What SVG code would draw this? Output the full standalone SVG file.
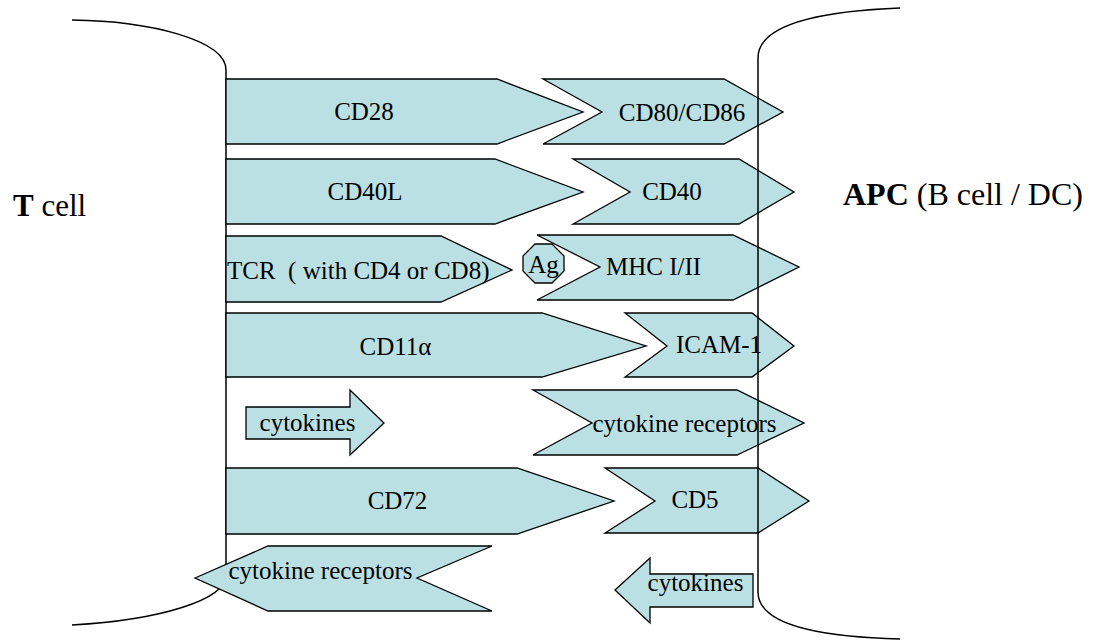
<svg xmlns="http://www.w3.org/2000/svg" width="1100" height="641" viewBox="0 0 1100 641">
<style>
.shape{fill:#BBE0E3;stroke:#000;stroke-width:1.3;stroke-linejoin:miter}
.mem{fill:none;stroke:#000;stroke-width:1.5}
.lbl{font-family:"Liberation Serif","Times New Roman",serif;font-size:25px;fill:#000;white-space:pre}
.mid{text-anchor:middle}
.side{font-family:"Liberation Serif","Times New Roman",serif;fill:#000;white-space:pre}
</style>
<rect width="1100" height="641" fill="#fff"/>
<g id="t-cell-membrane">
<path class="mem" d="M72 20 C150 21 226 40 226 70 L226 575 C226 600 160 620 72 625"/>
</g>
<g id="t-cell-label"><text class="side" x="13" y="216" font-size="31"><tspan font-weight="bold">T</tspan> cell</text></g>
<g id="apc-label"><text class="side" x="843" y="205" font-size="32"><tspan font-weight="bold">APC</tspan> (B cell / DC)</text></g>

<g id="cd28"><path class="shape" d="M226 79 H497 L583 112 L497 144 H226 Z"/><text class="lbl mid" x="364" y="120">CD28</text></g>
<g id="cd80-cd86"><path class="shape" d="M543 79 H724 L783 112 L724 144 H543 L602 112 Z"/><text class="lbl mid" x="682" y="121">CD80/CD86</text></g>
<g id="cd40l"><path class="shape" d="M226 159 H495 L583 192 L495 224 H226 Z"/><text class="lbl mid" x="365" y="200">CD40L</text></g>
<g id="cd40"><path class="shape" d="M573 159 H739 L794 192 L739 224 H573 L630 192 Z"/><text class="lbl mid" x="672" y="200">CD40</text></g>
<g id="tcr"><path class="shape" d="M226 236 H441 L512 270 L441 302 H226 Z"/><text class="lbl" x="227" y="279">TCR  ( with CD4 or CD8)</text></g>
<g id="ag"><path class="shape" d="M535 244 H552 L564 256 V271 L552 283 H535 L523 271 V256 Z"/><text class="lbl mid" x="543.5" y="273">Ag</text></g>
<g id="mhc"><path class="shape" d="M537 235 H733 L799 267 L733 300 H537 L600 267 Z"/><text class="lbl" x="606" y="275">MHC I/II</text></g>
<g id="cd11a"><path class="shape" d="M226 313 H542 L646 346 L542 377 H226 Z"/><text class="lbl mid" x="395.5" y="355">CD11α</text></g>
<g id="icam1"><path class="shape" d="M625 313 H752 L794 346 L752 377 H625 L667 346 Z"/><text class="lbl mid" x="719" y="353">ICAM-1</text></g>
<g id="cytokines-t"><path class="shape" d="M246 407 H350 V390 L384 423 L350 455 V439 H246 Z"/><text class="lbl mid" x="307.5" y="431">cytokines</text></g>
<g id="cytokine-receptors-apc"><path class="shape" d="M533 390 H737 L804 423 L737 455 H533 L592 423 Z"/><text class="lbl mid" x="684.5" y="432">cytokine receptors</text></g>
<g id="cd72"><path class="shape" d="M226 468 H517 L614 501 L517 534 H226 Z"/><text class="lbl mid" x="397.5" y="509">CD72</text></g>
<g id="cd5"><path class="shape" d="M605 468 H758 L809 501 L758 533 H605 L655 501 Z"/><text class="lbl mid" x="695" y="508">CD5</text></g>
<g id="cytokine-receptors-t"><path class="shape" d="M195 578 L268 546 H492 L417 578 L492 611 H268 Z"/><text class="lbl mid" x="320.5" y="579">cytokine receptors</text></g>
<g id="cytokines-apc"><path class="shape" d="M615 590 L650 558 V574 H753 V607 H650 V623 Z"/><text class="lbl mid" x="695.5" y="591">cytokines</text></g>

<g id="apc-membrane">
<path class="mem" d="M900 8 C800 12 758 30 758 58 L758 592 C758 625 820 637 900 639"/>
</g>
</svg>
